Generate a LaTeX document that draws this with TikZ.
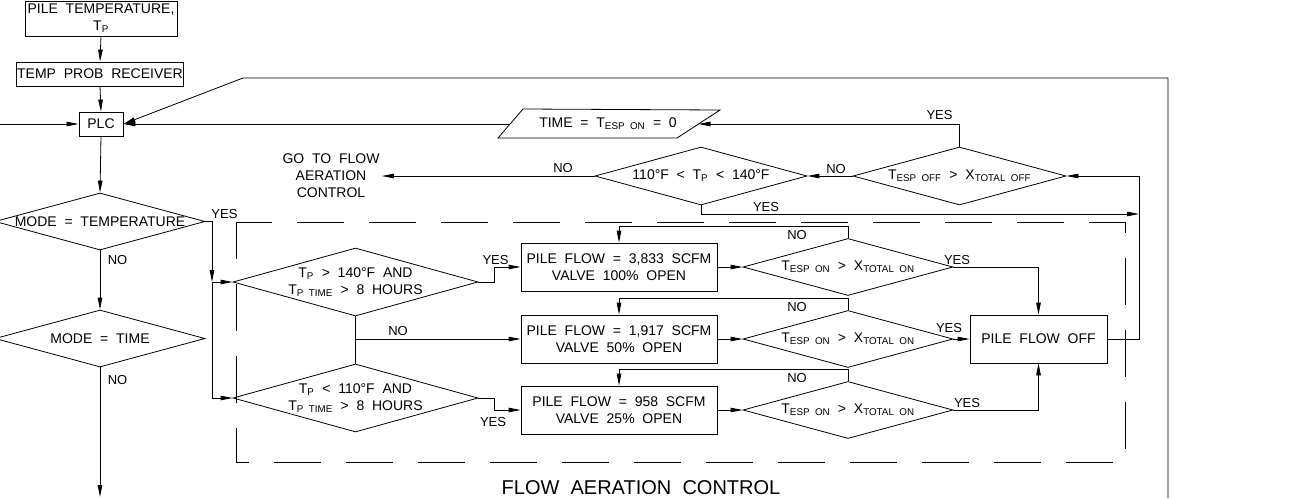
\documentclass[tikz,border=0pt]{standalone}
\usepackage{fontspec}
\setmainfont{Liberation Sans}[WordSpace=2]
\usepackage{tikz}
\usetikzlibrary{shapes.geometric,arrows.meta,calc,positioning}
\newcommand{\lowidx}[1]{\textsubscript{#1}}

\begin{document}
\begin{tikzpicture}[x=1pt, y=-1pt, line width=0.8pt,
    >={Triangle[length=12pt,width=4.5pt]},
    txt/.style={font=\fontsize{14}{17}\selectfont, inner sep=1pt, align=center},
    lbl/.style={font=\fontsize{13}{15}\selectfont, inner sep=0pt},
    box/.style={txt, draw, minimum height=48pt},
    decision/.style 2 args={diamond, draw, inner sep=0pt, minimum width=#1, minimum height=#2}]
        \path[use as bounding box, fill=white] (0,0) rectangle (1289,498);

        % Sensor chain
        \node[box, minimum width=152pt, minimum height=35pt] (temp) at (101,18.5) {PILE TEMPERATURE,\\T\lowidx{P}};
        \node[box, minimum width=164pt, minimum height=24pt] (recv) at (100,74) {TEMP PROB RECEIVER};
        \node[box, minimum width=44pt, minimum height=24pt] (plc) at (101,124) {PLC};
        \draw[->] (temp.south) -- (recv.north);
        \draw[->] (recv.south) -- (plc.north);

        % Mode selection
        \node[decision={210pt}{57pt}] (mtemp) at (100,221.5) {};
        \node[txt] (mtempT) at (mtemp) {MODE = TEMPERATURE};
        \node[decision={210pt}{57pt}] (mtime) at (100,338.5) {};
        \node[txt] (mtimeT) at (mtime) {MODE = TIME};
        \coordinate (lin) at (0,124);
        \coordinate (bout) at (100,497);
        \draw[->] (lin) -- (plc.west);
        \draw[->] (plc.south) -- (mtemp.north);
        \draw[->] (mtemp.south) -- (mtime.north);
        \draw[->] (mtime.south) -- (bout);
        \node[lbl] (noMode) at (117.5,260) {NO};
        \node[lbl] (noTime) at (117.5,380) {NO};
        \node[lbl] (yesMode) at (224.5,214) {YES};

        % Flow aeration control
        \draw[dash pattern=on 47pt off 25pt, dash phase=11pt] (236,222) -- (1125,222) -- (1125,462) -- (236,462) -- cycle;
        \node[font=\fontsize{20}{24}\selectfont, inner sep=0pt] (title) at (641,488) {FLOW AERATION CONTROL};

        \node[decision={245pt}{68pt}] (dhot) at (355.5,282) {};
        \node[txt] (dhotT) at (dhot) {T\lowidx{P} > 140°F AND\\T\lowidx{P TIME} > 8 HOURS};
        \node[decision={245pt}{68pt}] (dcold) at (355.5,398) {};
        \node[txt] (dcoldT) at (dcold) {T\lowidx{P} < 110°F AND\\T\lowidx{P TIME} > 8 HOURS};

        \coordinate (bus) at (212,221.5);
        \draw[->] (mtemp.east) -- (bus) -- (bus |- dhot.west);
        \draw[->] (bus |- dhot.west) -- (dhot.west);
        \draw[->] (bus |- dhot.west) |- (dcold.west);

        % Valve rows
        \foreach \row/\y/\scfm/\pct in {full/267/{3,833}/100, half/339/{1,917}/50, quarter/410/958/25}
        {
            \node[box, minimum width=196pt] (\row) at (619,\y) {PILE FLOW = \scfm\ SCFM\\VALVE \pct\% OPEN};
            \node[decision={210pt}{57pt}] (\row-chk) at (848,\y) {};
            \node[txt] (\row-txt) at (\row-chk) {T\lowidx{ESP ON} > X\lowidx{TOTAL ON}};
            \draw[->] (\row.east) -- (\row-chk.west);
            \draw[->] (\row-chk.north) -- ++(0,-12) -| (\row.north);
            \node[lbl] (\row-no) at (797,\y-32) {NO};
        }

        \node[box, minimum width=137pt] (off) at (1038.5,339) {PILE FLOW OFF};

        \draw[->] (dhot.east) -- ++(16,0) |- (full.west);
        \draw (dhot.south) -- (dcold.north);
        \draw[->] (dhot.south |- half.west) -- (half.west);
        \draw[->] (dcold.east) -- ++(16,0) |- (quarter.west);
        \node[lbl] (yesHot) at (495.5,260) {YES};
        \node[lbl] (noHot) at (398,331) {NO};
        \node[lbl] (yesCold) at (493,422) {YES};

        \draw[->] (full-chk.east) -| (off.north);
        \draw[->] (half-chk.east) -- (off.west);
        \draw[->] (quarter-chk.east) -| (off.south);
        \node[lbl] (yes1) at (957,260) {YES};
        \node[lbl] (yes2) at (949,328) {YES};
        \node[lbl] (yes3) at (967,403) {YES};

        % Off-time loop
        \node[decision={212pt}{58pt}] (range) at (701,176) {};
        \node[txt] (rangeT) at (range) {110°F < T\lowidx{P} < 140°F};
        \node[decision={213pt}{58pt}] (offchk) at (959.5,176) {};
        \node[txt] (offchkT) at (offchk) {T\lowidx{ESP OFF} > X\lowidx{TOTAL OFF}};
        \node[txt, inner sep=2pt] (goto) at (331,176) {GO TO FLOW\\AERATION\\CONTROL};

        \node[txt] (reset) at (608,124) {TIME = T\lowidx{ESP ON} = 0};
        \draw (498,138) -- (523,109) -- (720,110) -- (677,138) -- cycle;
        \coordinate (resetL) at (510,124);
        \coordinate (resetR) at (698.5,124);

        \coordinate (merge) at (1139,214);
        \draw[->] (off.east) -| (merge) |- (offchk.east);
        \draw[->] (range.south) |- (merge);
        \draw[->] (offchk.west) -- (range.east);
        \draw[->] (range.west) -- (goto.east);
        \draw[->] (offchk.north) |- (resetR);
        \draw[->] (resetL) -- (plc.east);
        \node[lbl] (yesOff) at (939.5,115.5) {YES};
        \node[lbl] (noOff) at (836,169) {NO};
        \node[lbl] (noRange) at (563,168) {NO};
        \node[lbl] (yesRange) at (766,207.5) {YES};

        % Return to PLC
        \coordinate (rbot) at (1168,498);
        \coordinate (tbend) at (243,78);
        \draw[->] (rbot) |- (tbend) -- (plc.east);
\end{tikzpicture}
\end{document}
